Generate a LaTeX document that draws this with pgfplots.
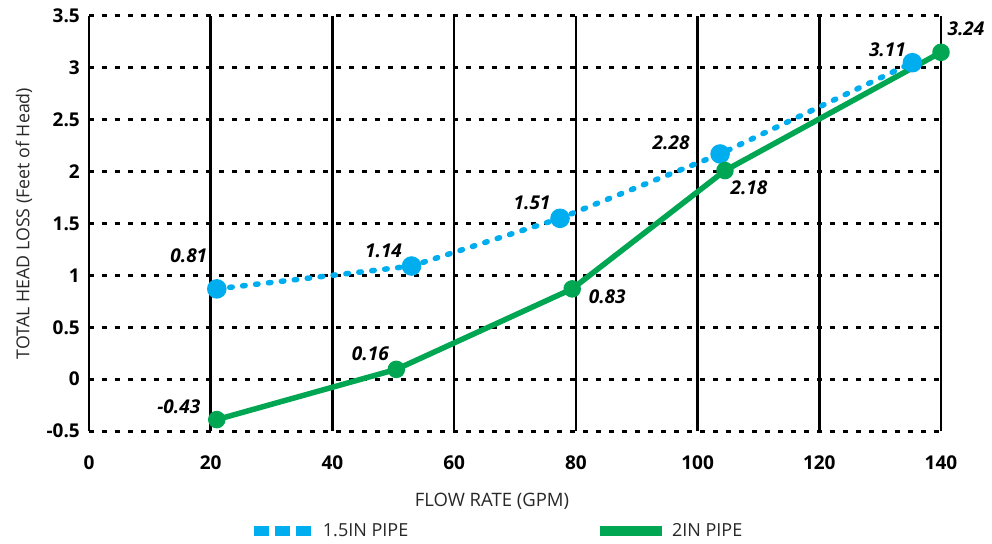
\documentclass[border=0pt]{standalone}
\usepackage{fontspec}
\setmainfont{Open Sans}
\usepackage{pgfplots}
\usepackage{pgfplotstable}
\pgfplotsset{compat=1.18}
\definecolor{pipeblue}{RGB}{0,174,239}
\definecolor{pipegreen}{RGB}{0,166,81}
\definecolor{labgray}{RGB}{40,40,40}

\pgfplotstableread{
x y lab dx dy
21 0.87 0.81 -28 33
53 1.09 1.14 -28 15
77.4 1.55 1.51 -28 15
103.7 2.17 2.28 -49 11
135.3 3.05 3.11 -25 13
}\bluedata

\pgfplotstableread{
x y lab dx dy
21 -0.39 -0.43 -38 13
50.5 0.094 0.16 -26 16
79.4 0.87 0.83 35 -8
104.5 2.01 2.18 24 -17
140 3.15 3.24 25 24
}\greendata

\begin{document}
\begin{tikzpicture}
\begin{axis}[
  name=ax,
  scale only axis,
  width=852bp, height=415bp,
  xmin=0, xmax=140, ymin=-0.5, ymax=3.5,
  clip=false,
  axis line style={draw=none},
  major tick length=0pt,
  xtick={0,20,...,140},
  xticklabels={0,20,40,60,80,100,120,140},
  ytick={-0.5,0,0.5,1,1.5,2,2.5,3,3.5},
  yticklabels={-0.5,0,0.5,1,1.5,2,2.5,3,3.5},
  xmajorgrids, ymajorgrids,
  x grid style={black, line width=2.5bp},
  y grid style={black, line width=3bp, dash pattern=on 5bp off 8bp},
  extra y ticks={0},
  extra y tick labels={},
  extra y tick style={grid=major, major grid style={black, line width=2.2bp, solid}},
  ticklabel style={font=\fontsize{19bp}{22bp}\selectfont\bfseries, text=black, inner sep=0pt},
  xticklabel style={anchor=north, yshift=-25bp},
  yticklabel style={anchor=east, xshift=-9bp},
  xlabel={FLOW RATE (GPM)},
  ylabel={TOTAL HEAD LOSS (Feet of Head)},
  xlabel style={at={(axis description cs:0.473,-0.169)}, anchor=center, font=\fontsize{18.5bp}{22bp}\selectfont, text=labgray},
  ylabel style={at={(axis description cs:-0.0763,0.5)}, anchor=center, font=\fontsize{17.8bp}{22bp}\selectfont, text=labgray},
  legend style={at={(axis description cs:0.1878,-0.241)}, anchor=west, draw=none, fill=none,
    inner sep=0pt, font=\fontsize{18bp}{20bp}\selectfont, text=labgray,
    /tikz/every even column/.append style={column sep=185bp}},
  legend columns=2,
  point meta=explicit symbolic,
  nodes near coords,
  visualization depends on={\thisrow{dx}\as\ldx},
  visualization depends on={\thisrow{dy}\as\ldy},
  nodes near coords style={font=\fontsize{19bp}{22bp}\selectfont\bfseries\itshape, text=black, anchor=center, inner sep=0pt, xshift=\ldx bp, yshift=\ldy bp},
]
\addplot[color=pipeblue, line width=5.5bp, line cap=round, dash pattern=on 2.5bp off 10.5bp,
  mark=*, mark size=7bp, mark options={solid, fill=pipeblue, draw=none},
  legend image code/.code={\draw[pipeblue, line width=10bp, dash pattern=on 15bp off 6bp, line cap=butt] (0bp,0bp) -- (57bp,0bp); \path (64bp,0bp);}]
  table[x=x, y=y, meta=lab] {\bluedata};
\addlegendentry{1.5IN PIPE}
\addplot[color=pipegreen, line width=5.5bp, line join=round,
  mark=*, mark size=6bp, mark options={solid, fill=pipegreen, draw=none},
  legend image code/.code={\draw[pipegreen, line width=10bp] (0bp,0bp) -- (62bp,0bp); \path (67bp,0bp);}]
  table[x=x, y=y, meta=lab] {\greendata};
\addlegendentry{2IN PIPE}
\end{axis}
\pgfresetboundingbox
\path (ax.south west) ++(-89bp,-113bp) rectangle ++(992bp,544bp);
\end{tikzpicture}
\end{document}
